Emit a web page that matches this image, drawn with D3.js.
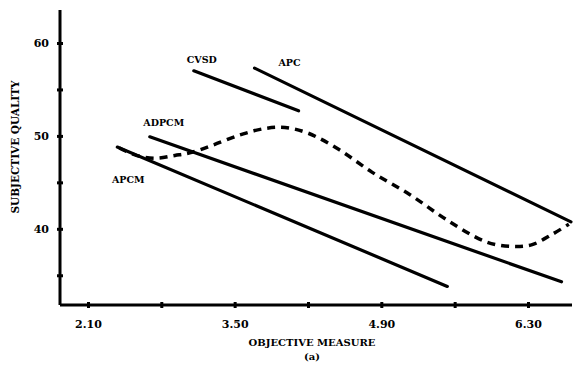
<!DOCTYPE html>
<html>
<head>
<meta charset="utf-8">
<script src="https://cdn.jsdelivr.net/npm/d3@7"></script>
<style>
  body { margin: 0; background: #fff; }
  text { font-family: "DejaVu Serif", serif; font-weight: bold; fill: #000; }
</style>
</head>
<body>
<div id="chart"></div>
<script>
// coders, each a straight line: [x0, y0, x1, y1] in data units
const coders = ["CVSD", "APC", "ADPCM", "APCM"];
const lineStart = [[3.11, 57.0], [3.69, 57.3], [2.69, 49.9], [2.38, 48.8]];
const lineEnd = [[4.11, 52.7], [6.71, 40.75], [6.62, 34.3], [5.53, 33.8]];

// dashed curve (objective measure, subjective quality)
const curveX = [2.40, 2.56, 2.75, 2.93, 3.08, 3.29, 3.55, 3.79, 3.98, 4.20, 4.50, 4.81, 5.17, 5.52, 5.90, 6.15, 6.34, 6.53, 6.69];
const curveY = [48.7, 47.9, 47.6, 47.9, 48.2, 49.0, 50.1, 50.8, 50.9, 50.3, 48.5, 46.1, 43.7, 41.0, 38.6, 38.1, 38.3, 39.4, 40.5];

const xTicks = [2.10, 2.80, 3.50, 4.20, 4.90, 5.60, 6.30];
const xTickLabels = ["2.10", "", "3.50", "", "4.90", "", "6.30"];
const yTicks = [35, 40, 45, 50, 55, 60];
const yTickLabels = ["", "40", "", "50", "", "60"];

const width = 573, height = 370;
const svg = d3.select("#chart").append("svg").attr("width", width).attr("height", height);

const x = d3.scaleLinear().domain([1.833, 6.72]).range([60, 572]);
const y = d3.scaleLinear().domain([31.8, 63.55]).range([305, 10]);

// axes: ticks cross the axis line
const xAxis = svg.append("g")
    .attr("transform", "translate(0,305)")
    .call(d3.axisBottom(x).tickValues(xTicks).tickSize(3).tickPadding(12)
        .tickFormat((d, i) => xTickLabels[i]));
const yAxis = svg.append("g")
    .attr("transform", "translate(60,0)")
    .call(d3.axisLeft(y).tickValues(yTicks).tickSize(3).tickPadding(8)
        .tickFormat((d, i) => yTickLabels[i]));

[xAxis, yAxis].forEach(a => {
    a.select(".domain").attr("stroke", "#000").attr("stroke-width", 3);
    a.selectAll(".tick line").attr("stroke", "#000").attr("stroke-width", 3);
    a.selectAll(".tick text").style("font-size", "11px");
});
xAxis.selectAll(".tick line").attr("y1", -3);
yAxis.selectAll(".tick line").attr("x1", 3);
xAxis.select(".domain").attr("d", `M60,0H572`);
yAxis.select(".domain").attr("d", `M0,305V10`);

// coder lines
coders.forEach((c, i) => {
    svg.append("line")
        .attr("x1", x(lineStart[i][0])).attr("y1", y(lineStart[i][1]))
        .attr("x2", x(lineEnd[i][0])).attr("y2", y(lineEnd[i][1]))
        .attr("stroke", "#000").attr("stroke-width", 3.2).attr("stroke-linecap", "round");
});

// label offsets from each line start, pixels
const labelOffset = [[8, -11], [35, -5], [14, -14], [11, 33]];
coders.forEach((c, i) => {
    svg.append("text")
        .attr("x", x(lineStart[i][0]) + labelOffset[i][0])
        .attr("y", y(lineStart[i][1]) + labelOffset[i][1])
        .attr("text-anchor", "middle")
        .attr("dy", "0.35em")
        .style("font-size", "9.5px")
        .text(c);
});

// dashed curve
const pts = curveX.map((d, i) => [d, curveY[i]]);
svg.append("path")
    .datum(pts)
    .attr("fill", "none")
    .attr("stroke", "#000")
    .attr("stroke-width", 3.5)
    .attr("stroke-dasharray", "8,6")
    .attr("d", d3.line().x(d => x(d[0])).y(d => y(d[1])).curve(d3.curveCatmullRom));

// axis titles
svg.append("text")
    .attr("x", 312).attr("y", 342)
    .attr("text-anchor", "middle").attr("dy", "0.35em")
    .style("font-size", "10px")
    .text("OBJECTIVE MEASURE");
svg.append("text")
    .attr("x", 312).attr("y", 356)
    .attr("text-anchor", "middle").attr("dy", "0.35em")
    .style("font-size", "10px")
    .text("(a)");
svg.append("text")
    .attr("transform", "translate(15,147) rotate(-90)")
    .attr("text-anchor", "middle").attr("dy", "0.35em")
    .style("font-size", "10.5px")
    .text("SUBJECTIVE QUALITY");
</script>
</body>
</html>
